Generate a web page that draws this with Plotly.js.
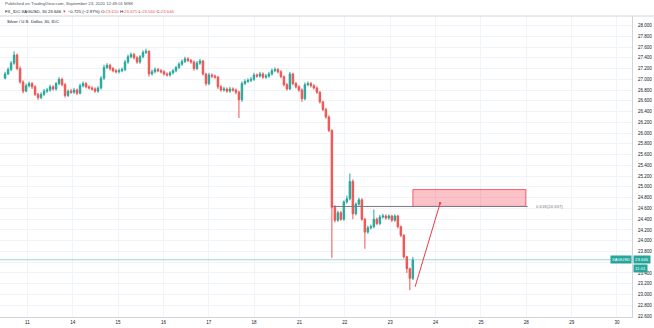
<!DOCTYPE html>
<html>
<head>
<meta charset="utf-8">
<script src="https://cdn.plot.ly/plotly-3.0.1.min.js"></script>
<style>html,body{margin:0;padding:0;background:#fff;}#chart{width:654px;height:328px;}</style>
</head>
<body>
<div id="chart"></div>
<script>
// Time axis: trading days (Sep 11 = 0), labels
const dayTickVals = [0,1,2,3,4,5,6,7,8,9,10,11,12,13];
const dayTickText = ['11','14','15','16','17','18','21','22','23','24','25','28','29','30'];

// Bars: start time (in trading days) and spacing
const barStart = -0.49;
const barStep = 0.0661;

const openP = [27.02,27.10,27.18,27.30,27.45,27.20,26.95,26.78,26.88,26.92,
26.86,26.72,26.66,26.72,26.78,26.80,26.86,26.82,26.92,27.00,
26.90,26.70,26.78,26.76,26.80,26.74,26.88,26.92,26.86,26.84,
26.82,26.78,26.84,27.02,27.22,27.26,27.20,27.16,27.14,27.16,
27.18,27.32,27.42,27.46,27.40,27.32,27.42,27.50,27.52,27.10,
27.14,27.18,27.16,27.14,27.10,27.08,27.12,27.16,27.22,27.28,
27.33,27.38,27.35,27.32,27.20,27.30,27.34,27.10,26.92,27.08,
27.06,27.04,26.86,26.80,26.82,26.78,26.82,26.80,26.76,26.62,
26.92,26.96,26.98,27.00,27.08,27.06,27.10,27.04,27.06,27.10,
27.16,27.18,27.14,27.05,26.90,26.82,27.10,26.92,26.86,26.80,
26.64,26.90,26.92,26.88,26.84,26.76,26.58,26.44,26.30,26.05,
24.62,24.38,24.52,24.40,24.72,24.78,25.10,24.50,24.68,24.76,
24.40,24.16,24.24,24.26,24.40,24.32,24.44,24.46,24.42,24.46,
24.38,24.46,24.26,24.10,23.70,23.48,23.30];

const highP = [27.14,27.22,27.34,27.52,27.48,27.24,26.98,26.92,26.96,26.95,
26.89,26.75,26.76,26.82,26.84,26.90,26.89,26.95,27.04,27.03,
26.93,26.81,26.82,26.84,26.83,26.92,26.96,26.95,26.89,26.87,
26.85,26.87,27.06,27.27,27.30,27.29,27.23,27.19,27.20,27.22,
27.36,27.46,27.50,27.49,27.43,27.45,27.54,27.57,27.54,27.18,
27.22,27.21,27.19,27.17,27.13,27.15,27.19,27.25,27.32,27.37,
27.42,27.41,27.38,27.35,27.34,27.38,27.36,27.12,27.12,27.11,
27.09,27.06,26.89,26.86,26.85,26.86,26.85,26.83,26.79,26.96,
27.00,27.02,27.04,27.12,27.11,27.14,27.13,27.10,27.14,27.20,
27.22,27.21,27.17,27.07,26.93,27.14,27.12,26.95,26.89,26.83,
26.94,26.96,26.95,26.91,26.87,26.78,26.60,26.47,26.33,26.07,
24.66,24.56,24.55,24.75,24.84,25.25,25.14,24.71,24.80,24.79,
24.42,24.28,24.30,24.58,24.43,24.48,24.50,24.49,24.49,24.48,
24.49,24.48,24.28,24.12,23.72,23.50,23.70];

const lowP = [27.00,27.08,27.15,27.27,27.17,26.92,26.74,26.76,26.85,26.82,
26.69,26.62,26.63,26.69,26.75,26.77,26.79,26.79,26.89,26.87,
26.66,26.67,26.73,26.73,26.71,26.72,26.85,26.83,26.81,26.79,
26.75,26.75,26.81,26.99,27.19,27.16,27.13,27.11,27.11,27.13,
27.15,27.29,27.39,27.37,27.29,27.29,27.39,27.47,27.05,27.07,
27.11,27.13,27.11,27.07,27.05,27.05,27.09,27.13,27.19,27.25,
27.30,27.32,27.29,27.16,27.17,27.27,27.07,26.88,26.89,27.02,
27.01,26.82,26.77,26.77,26.75,26.75,26.77,26.72,26.28,26.58,
26.89,26.93,26.95,26.97,27.03,27.03,27.01,27.01,27.03,27.07,
27.13,27.11,27.02,26.87,26.79,26.80,26.89,26.83,26.77,26.58,
26.61,26.87,26.85,26.81,26.73,26.55,26.41,26.27,26.02,23.68,
24.34,24.35,24.37,24.37,24.69,24.75,24.40,24.47,24.65,24.37,
23.85,24.13,24.21,24.23,24.29,24.29,24.41,24.39,24.39,24.35,
24.35,24.23,24.07,23.67,23.40,23.08,23.27];

const closeP = [27.10,27.18,27.30,27.45,27.20,26.95,26.78,26.88,26.92,26.86,
26.72,26.66,26.72,26.78,26.80,26.86,26.82,26.92,27.00,26.90,
26.70,26.78,26.76,26.80,26.74,26.88,26.92,26.86,26.84,26.82,
26.78,26.84,27.02,27.22,27.26,27.20,27.16,27.14,27.16,27.18,
27.32,27.42,27.46,27.40,27.32,27.42,27.50,27.52,27.10,27.14,
27.18,27.16,27.14,27.10,27.08,27.12,27.16,27.22,27.28,27.33,
27.38,27.35,27.32,27.20,27.30,27.34,27.10,26.92,27.08,27.06,
27.04,26.86,26.80,26.82,26.78,26.82,26.80,26.76,26.62,26.92,
26.96,26.98,27.00,27.08,27.06,27.10,27.04,27.06,27.10,27.16,
27.18,27.14,27.05,26.90,26.82,27.10,26.92,26.86,26.80,26.64,
26.90,26.92,26.88,26.84,26.76,26.58,26.44,26.30,26.05,24.62,
24.38,24.52,24.40,24.72,24.78,25.10,24.50,24.68,24.76,24.40,
24.16,24.24,24.26,24.40,24.32,24.44,24.46,24.42,24.46,24.38,
24.46,24.26,24.10,23.70,23.48,23.30,23.64];

// Price axis ticks (23.600 label is hidden behind the last-price tag)
const priceTicks = [22.6,22.8,23.0,23.2,23.4,23.6,23.8,24.0,24.2,24.4,24.6,24.8,25.0,25.2,25.4,25.6,25.8,26.0,26.2,26.4,26.6,26.8,27.0,27.2,27.4,27.6,27.8,28.0];
const hiddenTick = 23.6;
const lastPrice = 23.646;
const countdown = '11:01';

// Drawings
const fibLevel = 24.637;
const fibX = [6.72, 11.03];
const zoneX = [8.50, 10.99];
const zoneY = [24.637, 24.95];
const projX = [8.55, 9.10];
const projY = [23.145, 24.695];

const barX = openP.map((_, i) => barStart + i * barStep);

const FONT = 'Liberation Sans, Arial, sans-serif';
const TXT = '#131722';
const UP = '#26a69a', DN = '#ef5350';

const trace = {
  type: 'candlestick',
  x: barX, open: openP, high: highP, low: lowP, close: closeP,
  increasing: {line: {color: UP, width: 1}, fillcolor: UP},
  decreasing: {line: {color: DN, width: 1}, fillcolor: DN},
  whiskerwidth: 0,
  hoverinfo: 'none',
  showlegend: false
};

const layout = {
  width: 654, height: 328,
  margin: {l: 0, r: 22, t: 16, b: 11, pad: 0},
  paper_bgcolor: '#ffffff', plot_bgcolor: '#ffffff',
  font: {family: FONT, size: 4.5, color: TXT},
  showlegend: false,
  xaxis: {
    type: 'linear', range: [-0.602, 13.331],
    tickvals: dayTickVals, ticktext: dayTickText,
    showgrid: true, gridcolor: '#f0f3fa', gridwidth: 1,
    zeroline: false, showline: true, linecolor: '#d1d4dc', linewidth: 1,
    ticks: '', ticklabelstandoff: 1,
    tickfont: {size: 4.5, color: TXT, family: FONT},
    rangeslider: {visible: false}, fixedrange: true
  },
  yaxis: {
    side: 'right', range: [22.582, 28.1766],
    tickvals: priceTicks,
    ticktext: priceTicks.map(v => Math.abs(v - hiddenTick) < 1e-9 ? '' : v.toFixed(3)),
    showgrid: true, gridcolor: '#f0f3fa', gridwidth: 1,
    zeroline: false, showline: true, linecolor: '#d1d4dc', linewidth: 1,
    ticks: '', ticklabelstandoff: 4,
    tickfont: {size: 4.5, color: TXT, family: FONT}, fixedrange: true
  },
  shapes: [
    {type: 'line', xref: 'paper', yref: 'paper', x0: 0, x1: 1.035, y0: 1, y1: 1, line: {color: '#d1d4dc', width: 1}},
    {type: 'line', xref: 'paper', yref: 'y', x0: 0, x1: 1, y0: lastPrice, y1: lastPrice, line: {color: 'rgba(38,166,154,0.45)', width: 1}},
    {type: 'rect', xref: 'x', yref: 'y', x0: zoneX[0], x1: zoneX[1], y0: zoneY[0], y1: zoneY[1], fillcolor: 'rgba(242,54,69,0.30)', line: {color: 'rgba(242,54,69,0.75)', width: 1}},
    {type: 'line', xref: 'x', yref: 'y', x0: fibX[0], x1: fibX[1], y0: fibLevel, y1: fibLevel, line: {color: '#787b86', width: 1}},
    {type: 'line', xref: 'x', yref: 'y', x0: projX[0], x1: projX[1], y0: projY[0], y1: projY[1], line: {color: '#f23645', width: 1}},
    {type: 'circle', xref: 'x', yref: 'y', xsizemode: 'pixel', ysizemode: 'pixel', xanchor: projX[1], yanchor: projY[1], x0: -1.2, x1: 1.2, y0: -1.2, y1: 1.2, fillcolor: '#f23645', line: {width: 0}}
  ],
  annotations: [
    {xref: 'paper', yref: 'paper', x: 0.005, y: 1.040, xanchor: 'left', yanchor: 'middle', showarrow: false,
     text: 'Published on TradingView.com, September 23, 2020 12:49:01 MSK', font: {size: 4.3, color: '#50535e', family: FONT}},
    {xref: 'paper', yref: 'paper', x: 0.005, y: 1.015, xanchor: 'left', yanchor: 'middle', showarrow: false,
     text: 'FX_IDC:XAGUSD, 30 23.646 <span style="color:#ef5350">▼</span> −0.725 (−2.97%) O:<span style="color:#ef5350">23.610</span> H:<span style="color:#ef5350">23.675</span> L:<span style="color:#ef5350">23.560</span> C:<span style="color:#ef5350">23.646</span>',
     font: {size: 4.3, color: TXT, family: FONT}},
    {xref: 'paper', yref: 'paper', x: 0.008, y: 0.982, xanchor: 'left', yanchor: 'middle', showarrow: false,
     text: 'Silver / U.S. Dollar, 30, IDC', font: {size: 4.3, color: TXT, family: FONT}},
    {xref: 'x', yref: 'y', x: fibX[1], y: fibLevel, xanchor: 'left', yanchor: 'middle', xshift: 6, showarrow: false,
     text: '0.618(' + fibLevel.toFixed(3) + ')', font: {size: 4.3, color: '#787b86', family: FONT}},
    {xref: 'paper', yref: 'y', x: 1, y: lastPrice, xanchor: 'right', yanchor: 'middle', showarrow: false,
     text: 'XAGUSD', bgcolor: UP, borderpad: 1, font: {size: 4.3, color: '#ffffff', family: FONT}},
    {xref: 'paper', yref: 'y', x: 1, y: lastPrice, xanchor: 'left', yanchor: 'middle', xshift: 1, showarrow: false,
     text: lastPrice.toFixed(3), bgcolor: UP, borderpad: 1, font: {size: 4.3, color: '#ffffff', family: FONT}},
    {xref: 'paper', yref: 'y', x: 1, y: lastPrice, xanchor: 'left', yanchor: 'top', xshift: 1, yshift: -4.5, showarrow: false,
     text: countdown, bgcolor: UP, borderpad: 1, font: {size: 4.3, color: '#ffffff', family: FONT}}
  ]
};

Plotly.newPlot('chart', [trace], layout, {displayModeBar: false, staticPlot: true});
</script>
</body>
</html>
